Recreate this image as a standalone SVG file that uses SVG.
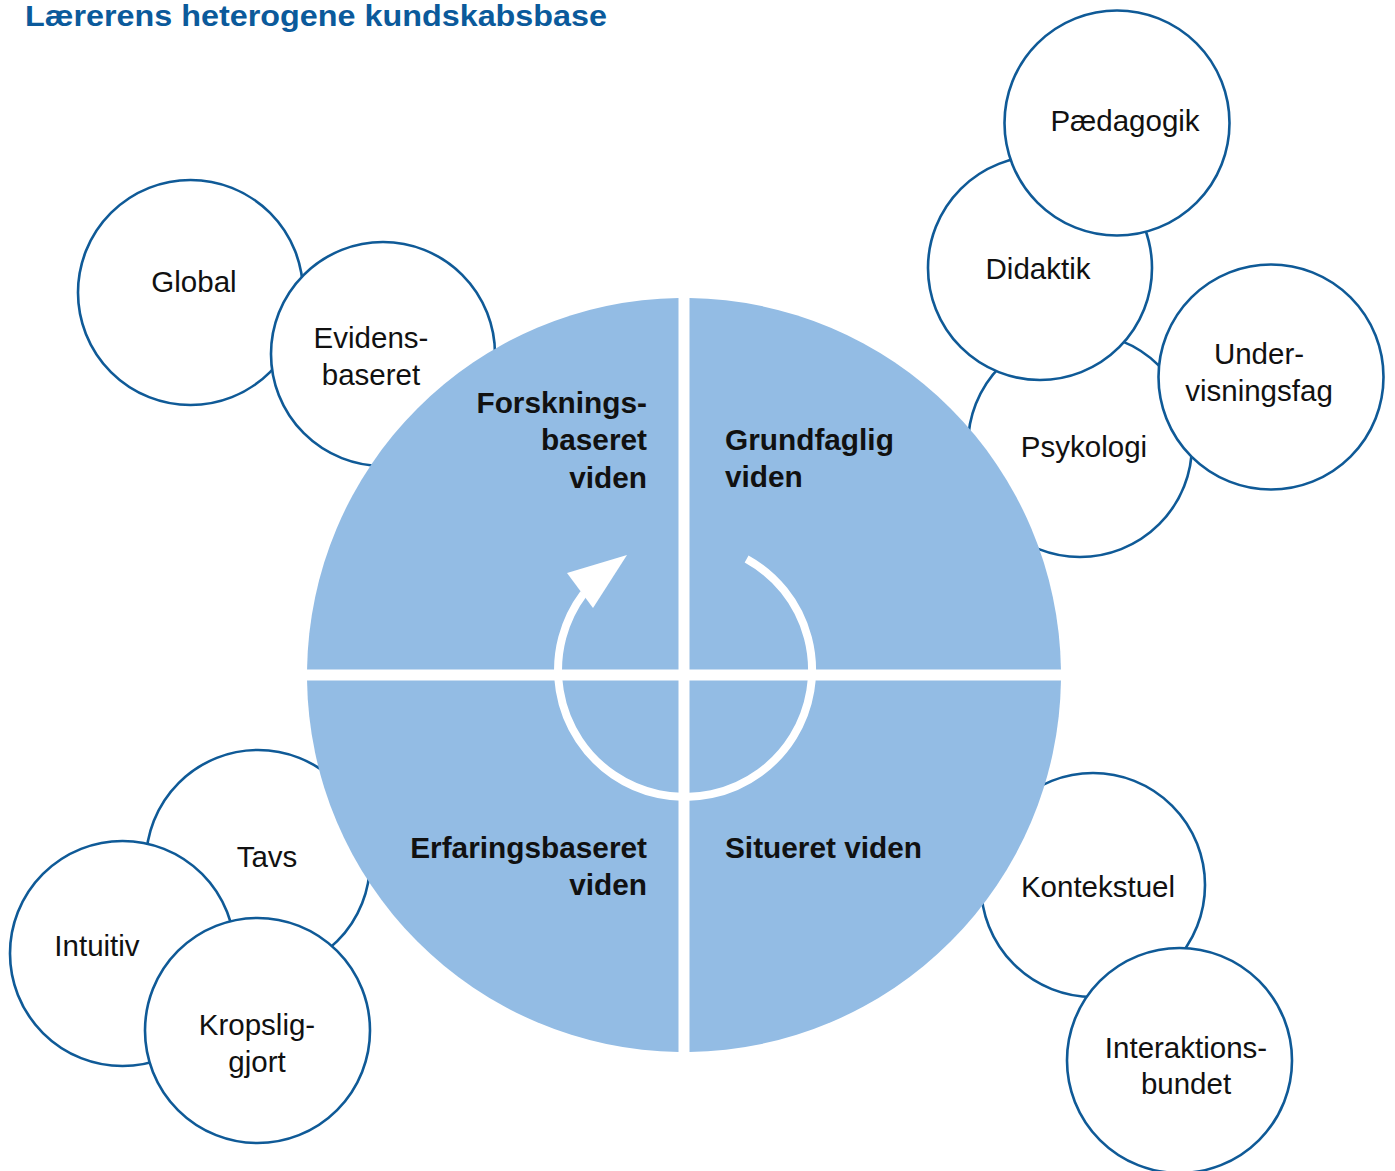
<svg xmlns="http://www.w3.org/2000/svg" width="1395" height="1171" viewBox="0 0 1395 1171">
<style>
.bub{fill:#ffffff;stroke:#0f5a97;stroke-width:2.6}
.lbl{font-family:"Liberation Sans",Arial,sans-serif;font-size:29.5px;fill:#111111;text-anchor:middle}
.q{fill:#93bce4}
.ql{font-family:"Liberation Sans",Arial,sans-serif;font-size:29.8px;font-weight:bold;fill:#111111}
.title{font-family:"Liberation Sans",Arial,sans-serif;font-size:29px;font-weight:bold;fill:#0b5a9b}
</style>
<rect width="1395" height="1171" fill="#ffffff"/>
<text class="title" x="25" y="26" textLength="582" lengthAdjust="spacingAndGlyphs">Lærerens heterogene kundskabsbase</text>

<g id="global"><circle class="bub" cx="190.5" cy="292.5" r="112.5"/><text class="lbl" x="194" y="292">Global</text></g>
<g id="evidens"><circle class="bub" cx="383" cy="354" r="112"/><text class="lbl" x="371" y="348">Evidens-</text><text class="lbl" x="371" y="385">baseret</text></g>
<g id="psykologi"><circle class="bub" cx="1080" cy="445" r="112"/><text class="lbl" x="1084" y="457">Psykologi</text></g>
<g id="didaktik"><circle class="bub" cx="1040" cy="268" r="112"/><text class="lbl" x="1038" y="279">Didaktik</text></g>
<g id="paedagogik"><circle class="bub" cx="1117" cy="123" r="112.5"/><text class="lbl" x="1125" y="131">Pædagogik</text></g>
<g id="undervisningsfag"><circle class="bub" cx="1271" cy="377" r="112.5"/><text class="lbl" x="1259" y="364">Under-</text><text class="lbl" x="1259" y="401">visningsfag</text></g>
<g id="tavs"><circle class="bub" cx="258" cy="862" r="112"/><text class="lbl" x="267" y="867">Tavs</text></g>
<g id="intuitiv"><circle class="bub" cx="122.5" cy="953.5" r="112.5"/><text class="lbl" x="97" y="956">Intuitiv</text></g>
<g id="kropsliggjort"><circle class="bub" cx="257.5" cy="1030.5" r="112.5"/><text class="lbl" x="257" y="1035">Kropslig-</text><text class="lbl" x="257" y="1072">gjort</text></g>
<g id="kontekstuel"><circle class="bub" cx="1093" cy="885" r="112"/><text class="lbl" x="1098" y="897">Kontekstuel</text></g>
<g id="interaktionsbundet"><circle class="bub" cx="1179.5" cy="1060.5" r="112.5"/><text class="lbl" x="1186" y="1058">Interaktions-</text><text class="lbl" x="1186" y="1094">bundet</text></g>

<g id="forskningsbaseret">
<path class="q" d="M678.5,669.5 L678.5,298.04 A377,377 0 0 0 307.04,669.5 Z"/>
<text class="ql" text-anchor="end" x="647" y="413">Forsknings-</text>
<text class="ql" text-anchor="end" x="647" y="450">baseret</text>
<text class="ql" text-anchor="end" x="647" y="488">viden</text>
</g>
<g id="grundfaglig">
<path class="q" d="M689.5,669.5 L689.5,298.04 A377,377 0 0 1 1060.96,669.5 Z"/>
<text class="ql" x="725" y="450">Grundfaglig</text>
<text class="ql" x="725" y="487">viden</text>
</g>
<g id="erfaringsbaseret">
<path class="q" d="M678.5,680.5 L678.5,1051.96 A377,377 0 0 1 307.04,680.5 Z"/>
<text class="ql" text-anchor="end" x="647" y="858">Erfaringsbaseret</text>
<text class="ql" text-anchor="end" x="647" y="895">viden</text>
</g>
<g id="situeret">
<path class="q" d="M689.5,680.5 L689.5,1051.96 A377,377 0 0 0 1060.96,680.5 Z"/>
<text class="ql" x="725" y="858">Situeret viden</text>
</g>

<g id="connectors">
<path d="M746.6,558.9 A127,127 0 1 1 583.6,593.6" fill="none" stroke="#ffffff" stroke-width="8"/>
<polygon points="627,555 567,573 593,608" fill="#ffffff"/>
</g>
</svg>
